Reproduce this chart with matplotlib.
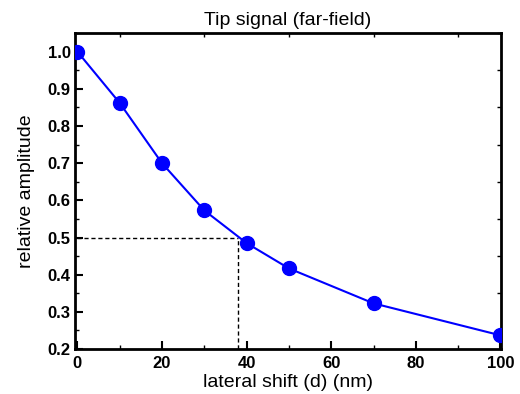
import matplotlib.pyplot as plt
from matplotlib.ticker import MultipleLocator

plt.rcParams['font.family'] = ['Liberation Sans', 'DejaVu Sans']

shift_nm = [0, 10, 20, 30, 40, 50, 70, 100]
amplitude = [1.0, 0.862, 0.70, 0.573, 0.485, 0.417, 0.323, 0.237]
half_x = 38
half_y = 0.5

fig = plt.figure(figsize=(5.2, 3.94), dpi=100)
ax = fig.add_axes([0.144, 0.114, 0.820, 0.802])

ax.plot(shift_nm, amplitude, color='#0000ff', lw=1.5, marker='o', ms=10,
        zorder=3)
ax.plot([0, half_x], [half_y, half_y], color='black', ls=(0, (3, 2)), lw=1)
ax.plot([half_x, half_x], [0.2, half_y], color='black', ls=(0, (3, 2)), lw=1)

ax.set_xlim(-0.6, 100.2)
ax.set_ylim(0.2, 1.05)
ax.xaxis.set_major_locator(MultipleLocator(20))
ax.xaxis.set_minor_locator(MultipleLocator(10))
ax.yaxis.set_major_locator(MultipleLocator(0.1))
ax.yaxis.set_minor_locator(MultipleLocator(0.05))
ax.yaxis.set_major_formatter(plt.FormatStrFormatter('%.1f'))

for s in ax.spines.values():
    s.set_linewidth(2)
ax.tick_params(which='both', direction='in', top=True, right=True,
               labeltop=False, labelright=False)
ax.tick_params(which='major', length=6, width=1.5, labelsize=12, pad=3)
ax.tick_params(axis='x', which='major', pad=5)
ax.tick_params(which='minor', length=3, width=1)
ax.tick_params(axis='x', which='major', top=False)
ax.tick_params(axis='y', which='major', right=False)
for lab in ax.get_xticklabels() + ax.get_yticklabels():
    lab.set_fontweight('bold')

ax.set_xlabel('lateral shift (d) (nm)', fontsize=14, labelpad=2)
ax.set_ylabel('relative amplitude', fontsize=14, labelpad=9)
ax.set_title('Tip signal (far-field)', fontsize=14, pad=6)

fig.savefig('out.png', dpi=100)
